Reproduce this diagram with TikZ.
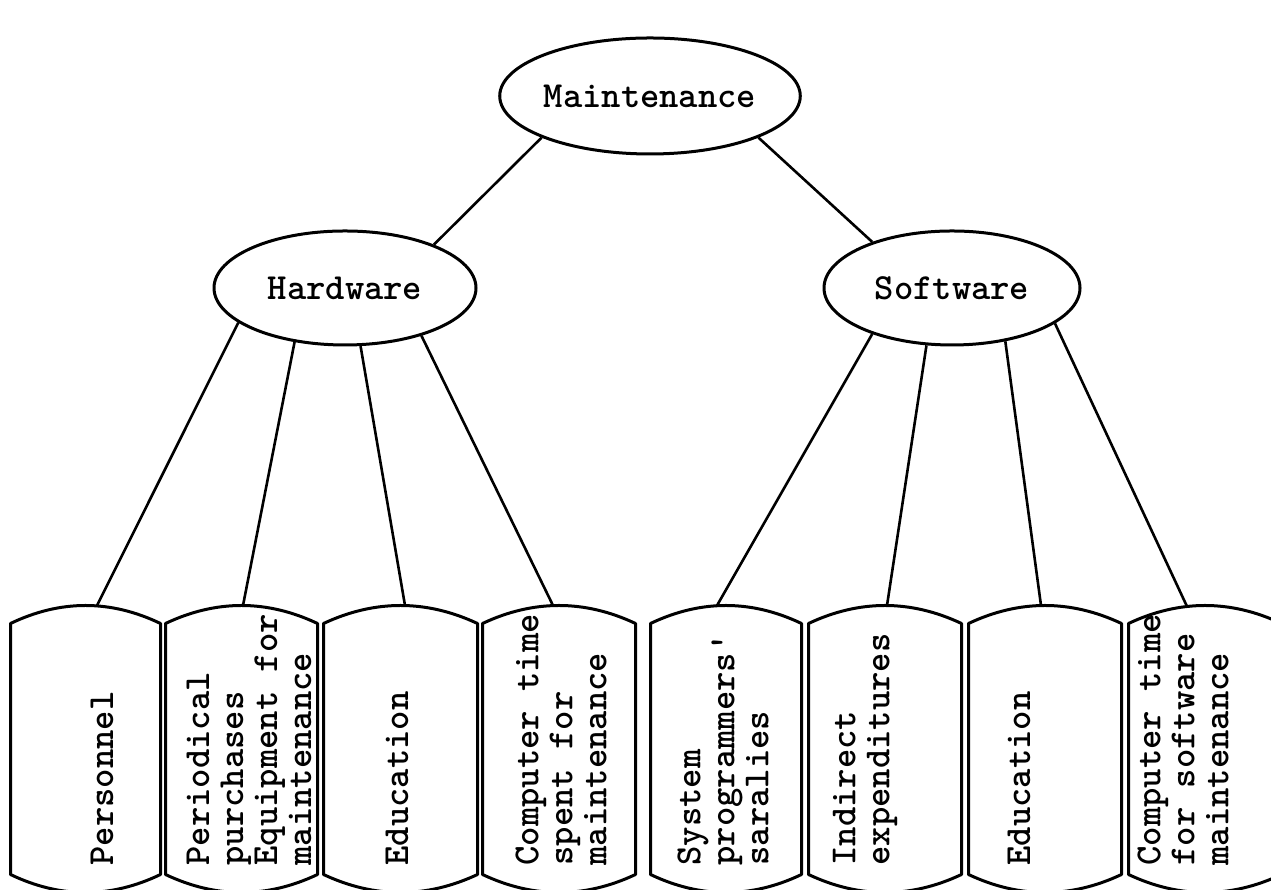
\documentclass[tikz,border=0pt]{standalone}
\usepackage{fontspec}
\usetikzlibrary{shapes.geometric,calc}
\begin{document}
\begin{tikzpicture}[x=1pt,y=1pt, line width=3pt,
  oval/.style={ellipse, draw, inner sep=0pt, font=\ttfamily\bfseries\fontsize{36.8}{34}\selectfont},
  leafbox/.style={rectangle, draw=none, minimum height=284pt, inner sep=0pt},
  leaftext/.style={rotate=90, anchor=west, align=left, inner sep=0pt, font=\ttfamily\bfseries\fontsize{36.8}{34}\selectfont},
  link/.style={line width=2.6pt}]
\useasboundingbox (0,0) rectangle (1271,890);
\fill[white] (0,0) rectangle (1271,890);
\node[oval, minimum width=256pt, minimum height=116pt] (M) at (650,794) {Maintenance};
\node[oval, minimum width=262pt, minimum height=114pt] (H) at (345,602) {Hardware};
\node[oval, minimum width=256pt, minimum height=114pt] (S) at (952,602) {Software};
\node[leafbox, minimum width=147pt] (b1) at (85.5,141) {};
\node[leafbox, minimum width=149pt] (b2) at (241.5,141) {};
\node[leafbox, minimum width=151pt] (b3) at (400.5,141) {};
\node[leafbox, minimum width=150pt] (b4) at (559,141) {};
\node[leafbox, minimum width=148pt] (b5) at (726,141) {};
\node[leafbox, minimum width=150pt] (b6) at (885,141) {};
\node[leafbox, minimum width=150pt] (b7) at (1045,141) {};
\node[leafbox, minimum width=150pt] (b8) at (1205,141) {};
\foreach \bx in {b1,b2,b3,b4,b5,b6,b7,b8} {
  \draw[line join=round] let \p1=(\bx.north west), \p2=(\bx.south east) in
    (\x1,\y1-18) .. controls ({\x1+(\x2-\x1)/3},\y1+6) and ({\x2-(\x2-\x1)/3},\y1+6) .. (\x2,\y1-18)
    -- (\x2,\y2+18) .. controls ({\x2-(\x2-\x1)/3},\y2-6) and ({\x1+(\x2-\x1)/3},\y2-6) .. (\x1,\y2+18) -- cycle;
}
\draw[link] (M.201) -- (H.26);
\draw[link] (M.-21) -- (S.150);
\draw[link] (H.198) -- ([xshift=11.5pt]b1.north);
\draw[link] (H.227) -- ([xshift=1.5pt]b2.north);
\draw[link] (H.285) -- ([xshift=4.5pt]b3.north);
\draw[link] (H.328) -- ([xshift=-6pt]b4.north);
\draw[link] (S.210) -- ([xshift=-9pt]b5.north);
\draw[link] (S.246) -- ([xshift=2pt]b6.north);
\draw[link] (S.315) -- ([xshift=-4pt]b7.north);
\draw[link] (S.341) -- ([xshift=-18pt,yshift=-1pt]b8.north);
\node[leaftext] (t1) at (102,23) {Personnel};
\node[leaftext] (t2) at (249,23) {Periodical\\purchases\\Equipment for\\maintenance};
\node[leaftext] (t3) at (397,23) {Education};
\node[leaftext] (t4) at (561,23) {Computer time\\spent for\\maintenance};
\node[leaftext] (t5) at (723,23) {System\\programmers\textquotesingle\\saralies};
\node[leaftext] (t6) at (865,23) {Indirect\\expenditures};
\node[leaftext] (t7) at (1019,23) {Education};
\node[leaftext] (t8) at (1183,23) {Computer time\\for software\\maintenance};
\end{tikzpicture}
\end{document}
